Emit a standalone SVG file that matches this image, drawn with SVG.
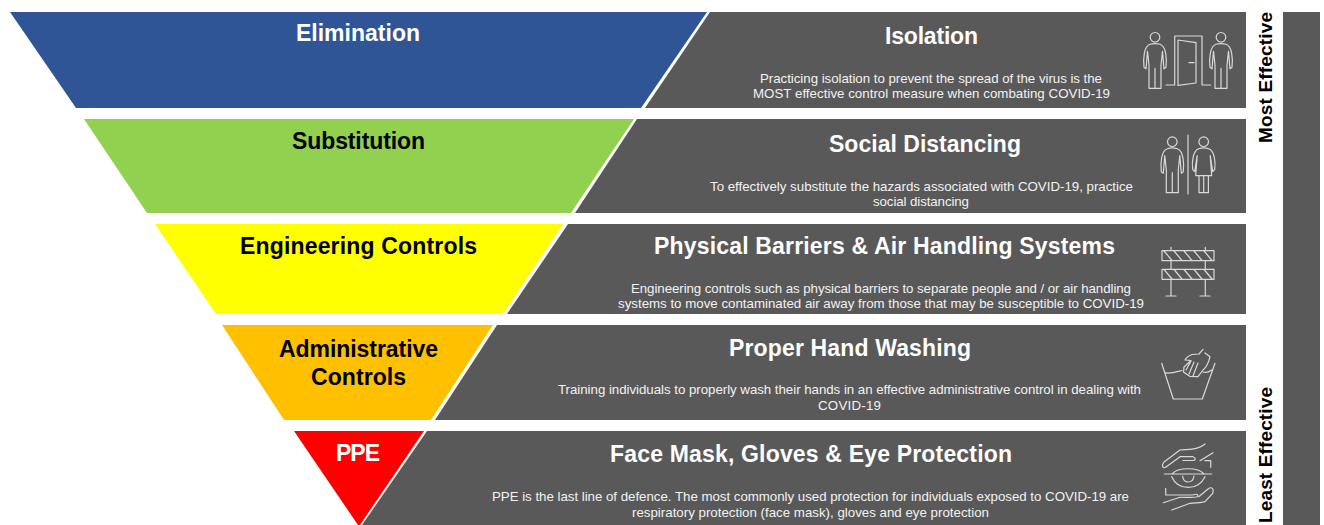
<svg xmlns="http://www.w3.org/2000/svg" width="1324" height="525" viewBox="0 0 1324 525">
<style>
text{font-family:"Liberation Sans",Arial,sans-serif;text-anchor:middle}
.h{font-size:23px;font-weight:700;fill:#fff}
.k{font-size:23px;font-weight:700;fill:#000}
.s{font-size:13.300px;fill:#f2f2f2}
.v{font-size:19px;font-weight:700;fill:#000}
.bar{fill:#595959}
.ic{fill:none;stroke:#d9d9d9;stroke-width:1.200;stroke-linejoin:round;stroke-linecap:round}
</style>
<defs>
<g id="man" class="ic"><circle cx="0" cy="5" r="4.800"/><path d="M-11,35C-12,26-11,14-5,12Q0,10.500 5,12C11,14 12,26 11,35M-11,35L-9,36.500L-7.500,19M11,35L9,36.500L7.500,19M-6,33V56H6V33M0,36V56M-7.500,19L-6,33M7.500,19L6,33"/></g>
</defs>
<g id="column"><rect class="bar" x="1283" y="12" width="37" height="513"/></g>
<g id="elimination"><polygon points="10,12 707,12 641,108 76,108" fill="#2f5597"/><text class="h" x="358" y="41" textLength="124">Elimination</text></g>
<g id="isolation"><polygon class="bar" points="710,12 1246,12 1246,108 645,108"/><text class="h" x="931.500" y="44" textLength="93">Isolation</text><text class="s" x="931" y="83" textLength="342">Practicing isolation to prevent the spread of the virus is the</text><text class="s" x="931.500" y="98" textLength="357">MOST effective control measure when combating COVID-19</text>
<use href="#man" x="1155" y="32.300"/><use href="#man" x="1221" y="32.300"/>
<path class="ic" d="M1166,85H1174.700V36H1202V85H1210.700M1178,40L1196,42.700V83L1178,85.300ZM1189,62.700H1194"/></g>
<g id="substitution"><polygon points="84,119 634,119 571,213 147,213" fill="#92d050"/><text class="k" x="358.500" y="149" textLength="133">Substitution</text></g>
<g id="social-distancing"><polygon class="bar" points="637,119 1246,119 1246,213 575,213"/><text class="h" x="925" y="152" textLength="192">Social Distancing</text><text class="s" x="921.500" y="190.500" textLength="423">To effectively substitute the hazards associated with COVID-19, practice</text><text class="s" x="921" y="206" textLength="96">social distancing</text>
<use href="#man" x="1172.300" y="136.700"/>
<path class="ic" d="M1188,135V194"/>
<g class="ic" transform="translate(1203.700,136.700)"><circle cx="0" cy="5" r="4.800"/><path d="M-11,33C-12,26-11,14-5,12Q0,10.500 5,12C11,14 12,26 11,33L9,35L6.500,19M-11,33L-9,35L-6.500,19M-6.500,19L-8,39H8L6.500,19M-4.700,39V56H4.700V39M0,39V56"/></g></g>
<g id="engineering"><polygon points="155,224 563,224 503,314 216,314" fill="#ff0"/><text class="k" x="358.500" y="254" textLength="237">Engineering Controls</text></g>
<g id="barriers"><polygon class="bar" points="568,224 1246,224 1246,314 507,314"/><text class="h" x="884.500" y="254" textLength="461">Physical Barriers &amp; Air Handling Systems</text><text class="s" x="881" y="293" textLength="500">Engineering controls such as physical barriers to separate people and / or air handling</text><text class="s" x="881" y="308" textLength="526">systems to move contaminated air away from those that may be susceptible to COVID-19</text>
<path class="ic" d="M1162,250.700H1214V260.700H1162ZM1162,269.300H1214V279.300H1162ZM1171,247.300V250.700M1205.300,247.300V250.700M1171,260.700V269.300M1205.300,260.700V269.300M1171,279.300V296M1205.300,279.300V296M1166,296H1176M1200,296H1210M1164,251L1172,260.500M1174,251L1182,260.500M1184,251L1192,260.500M1194,251L1202,260.500M1204,251L1212,260.500M1164,269.500L1172,279M1174,269.500L1182,279M1184,269.500L1192,279M1194,269.500L1202,279M1204,269.500L1212,279"/></g>
<g id="administrative"><polygon points="222,325 493,325 431,420 284,420" fill="#ffc000"/><text class="k" x="358.500" y="357" textLength="159">Administrative</text><text class="k" x="358.500" y="385" textLength="95">Controls</text></g>
<g id="hand-washing"><polygon class="bar" points="497,325 1246,325 1246,420 435,420"/><text class="h" x="850" y="356" textLength="242">Proper Hand Washing</text><text class="s" x="849.500" y="394" textLength="583">Training individuals to properly wash their hands in an effective administrative control in dealing with</text><text class="s" x="849.500" y="410" textLength="63">COVID-19</text>
<path class="ic" d="M1161.700,363.300L1173.300,399H1202.300L1215,363.300M1165,372.700C1170,374 1176,372 1182,370.500M1203,372C1206,373 1209,372 1211.700,370M1203,349.300L1199,354L1192,354.500C1188,356 1186,358 1185,360L1191,360.500L1184,367L1183.500,372L1190,376.500L1198,376.700L1203,370C1207,367 1209,361 1210,356.700L1205,353M1191,361L1186,370M1194,362L1189,374M1198,363L1193,376"/></g>
<g id="ppe"><polygon points="294,431 424,431 360,525 358,525" fill="#f00"/><text class="h" x="358" y="461" textLength="44">PPE</text></g>
<g id="face-mask"><polygon class="bar" points="427,431 1246,431 1246,525 362,525"/><text class="h" x="811" y="462" textLength="402">Face Mask, Gloves &amp; Eye Protection</text><text class="s" x="810.500" y="501" textLength="637">PPE is the last line of defence. The most commonly used protection for individuals exposed to COVID-19 are</text><text class="s" x="810.500" y="516.500" textLength="357">respiratory protection (face mask), gloves and eye protection</text>
<path class="ic" d="M1205,444C1198,450 1190,449 1180,450L1164,462C1161,466 1163,469 1166,467L1180,456.700H1193C1196,458 1196,460 1193,460.500H1183M1213,452.700L1200,460.700M1205,460.700H1210.700V467.300M1164.300,474H1211.700M1172,474C1178,467 1198,467 1204,474M1171.700,476.700C1178,491 1198,491 1205,476.700M1182.700,476C1183,484 1193,484 1194,476M1165.700,488.300V495H1193C1198,493 1199,496 1196.700,497C1190,498 1184,497 1180,497.300L1163.300,502.700M1199,496.500L1208,489C1212,486 1214,489 1212.700,493.300L1205,501.700C1200,503 1195,503 1190,503.300L1171.700,510"/></g>
<g id="labels"><text class="v" transform="translate(1272,77.500) rotate(-90)" textLength="131">Most Effective</text><text class="v" transform="translate(1272,455) rotate(-90)" textLength="136">Least Effective</text></g>
<g id="connectors"/>
</svg>
